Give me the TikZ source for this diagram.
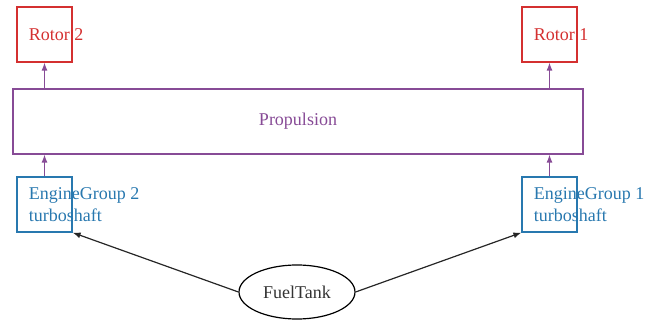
\documentclass[tikz,border=0pt]{standalone}
\usepackage{fontspec}
\setmainfont{Liberation Serif}
\usepackage{tikz}
\usetikzlibrary{arrows.meta}
\usetikzlibrary{shapes.geometric}

\definecolor{rotorred}{RGB}{212,48,48}
\definecolor{engblue}{RGB}{40,120,175}
\definecolor{propviolet}{RGB}{135,75,150}

\tikzset{
  unitbox/.style={draw, line width=0.6pt, minimum width=27.5pt, minimum height=27.5pt, inner sep=0pt},
  boxtext/.style={anchor=west, inner sep=0pt, xshift=6pt, align=left, font=\fontsize{9}{11}\selectfont},
  flow/.style={propviolet, line width=0.6pt, -{Latex[length=4pt,width=3pt]}},
  feed/.style={black!85, line width=0.6pt, -{Latex[length=4pt,width=3pt]}}
}

\begin{document}
\begin{tikzpicture}[x=0.5pt,y=-0.5pt]
        \useasboundingbox (0,0) rectangle (654,320);
        % rotors
        \node[unitbox, rotorred, label={[boxtext, rotorred]west:Rotor 2}] (rotor2) at (44.5,34.5) {};
        \node[unitbox, rotorred, label={[boxtext, rotorred]west:Rotor 1}] (rotor1) at (549.5,34.5) {};
        % propulsion
        \node[draw=propviolet, line width=0.6pt, minimum width=285pt, minimum height=32.5pt, inner sep=0pt,
              text=propviolet, font=\fontsize{9}{11}\selectfont] (prop) at (298,121.5) {Propulsion};
        % engines
        \node[unitbox, engblue, label={[boxtext, engblue]west:{EngineGroup 2\\turboshaft}}] (eng2) at (44.5,204.5) {};
        \node[unitbox, engblue, label={[boxtext, engblue]west:{EngineGroup 1\\turboshaft}}] (eng1) at (549.5,204.5) {};
        % fuel
        \node[draw, ellipse, line width=0.6pt, minimum width=58pt, minimum height=27pt, inner sep=0pt,
              text=black!80, font=\fontsize{9}{11}\selectfont] (tank) at (297,292) {FuelTank};

        \draw[flow] (rotor2 |- prop.north) -- (rotor2.south);
        \draw[flow] (rotor1 |- prop.north) -- (rotor1.south);
        \draw[flow] (eng2.north) -- (eng2 |- prop.south);
        \draw[flow] (eng1.north) -- (eng1 |- prop.south);
        \draw[feed] (tank.west) -- (eng2.south east);
        \draw[feed] (tank.east) -- (eng1.south west);
\end{tikzpicture}
\end{document}
